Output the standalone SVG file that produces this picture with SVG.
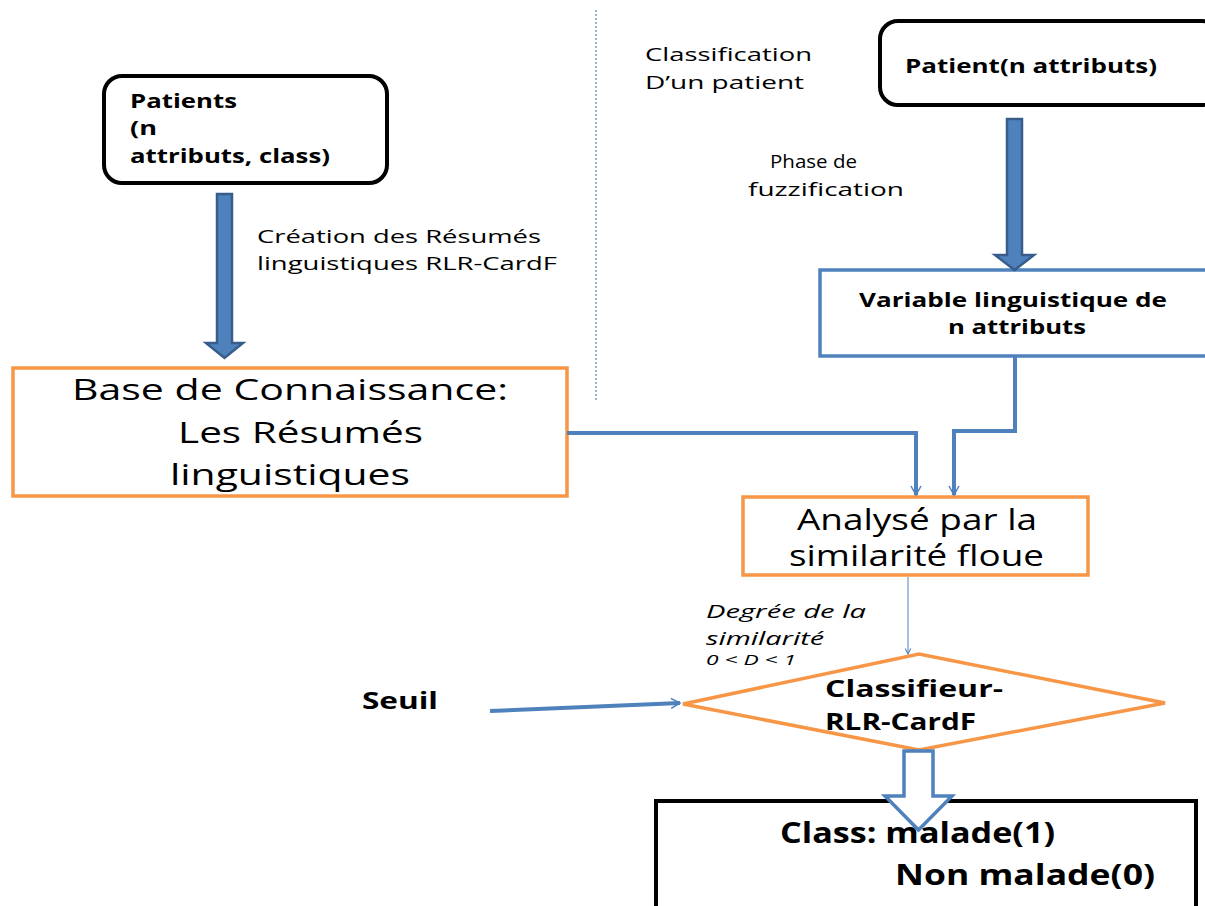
<svg xmlns="http://www.w3.org/2000/svg" width="1205" height="906" viewBox="0 0 1205 906">
<style>
text{font-family:"Open Sans","Liberation Sans",sans-serif;fill:#000}
.b{font-weight:bold}
.r{font-size:19px}
.big{font-size:29px}
.it{font-style:italic}
.blk{fill:#fff;stroke:#000;stroke-width:4}
.org{fill:#fff;stroke:#f79646;stroke-width:3.5}
.blu{fill:#fff;stroke:#4f81bd;stroke-width:3.5}
.con{fill:none;stroke:#4f81bd;stroke-width:4}
.thick{fill:#4f81bd;stroke:#385d8a;stroke-width:2.5}
</style>
<defs>
<marker id="open" viewBox="0 0 12 12" refX="10" refY="6" markerWidth="12" markerHeight="12" markerUnits="userSpaceOnUse" orient="auto">
<path d="M1,1 L10,6 L1,11" fill="none" stroke="#4f81bd" stroke-width="1.5"/>
</marker>
<marker id="open2" viewBox="0 0 10 10" refX="9" refY="5" markerWidth="7" markerHeight="7" orient="auto">
<path d="M1,1 L9,5 L1,9" fill="none" stroke="#4f81bd" stroke-width="1.5"/>
</marker>
</defs>
<line x1="596" y1="10" x2="596" y2="400" stroke="#4f81bd" stroke-width="1.2" stroke-dasharray="2,2"/>
<g id="patients">
<rect class="blk" x="104" y="76" width="283" height="107" rx="18"/>
<text class="b r" x="130" y="108" textLength="107" lengthAdjust="spacingAndGlyphs">Patients</text>
<text class="b r" x="130" y="135" textLength="27" lengthAdjust="spacingAndGlyphs">(n</text>
<text class="b r" x="130" y="163" textLength="200" lengthAdjust="spacingAndGlyphs">attributs, class)</text>
</g>
<g id="patient">
<rect class="blk" x="880" y="21" width="340" height="84" rx="18"/>
<text class="b r" x="905" y="73" textLength="252" lengthAdjust="spacingAndGlyphs">Patient(n attributs)</text>
</g>
<g id="variable">
<rect class="blu" x="820" y="270" width="400" height="86"/>
<text class="b r" x="859" y="307" textLength="308" lengthAdjust="spacingAndGlyphs">Variable linguistique de</text>
<text class="b r" x="948" y="334" textLength="138" lengthAdjust="spacingAndGlyphs">n attributs</text>
</g>
<g id="base">
<rect class="org" x="13" y="368" width="554" height="128"/>
<text class="big" x="72" y="400" textLength="436" lengthAdjust="spacingAndGlyphs">Base de Connaissance:</text>
<text class="big" x="178" y="443" textLength="245" lengthAdjust="spacingAndGlyphs">Les Résumés</text>
<text class="big" x="170" y="485" textLength="240" lengthAdjust="spacingAndGlyphs">linguistiques</text>
</g>
<g id="analyse">
<rect class="org" x="743" y="497" width="345" height="78"/>
<text class="big" x="797" y="530" textLength="240" lengthAdjust="spacingAndGlyphs">Analysé par la</text>
<text class="big" x="789" y="566" textLength="255" lengthAdjust="spacingAndGlyphs">similarité floue</text>
</g>
<g id="classifieur">
<polygon class="org" points="683,704 919,654 1165,703 919,750"/>
<text class="b" font-size="24" x="825" y="697" textLength="178" lengthAdjust="spacingAndGlyphs">Classifieur-</text>
<text class="b" font-size="24" x="825" y="730" textLength="151" lengthAdjust="spacingAndGlyphs">RLR-CardF</text>
</g>
<g id="class">
<rect class="blk" x="656" y="801" width="540" height="120" stroke-width="3.5"/>
<text class="b" font-size="28" x="780" y="843" textLength="275" lengthAdjust="spacingAndGlyphs">Class: malade(1)</text>
<text class="b" font-size="28" x="895" y="885" textLength="260" lengthAdjust="spacingAndGlyphs">Non malade(0)</text>
</g>
<g id="labels">
<text class="r" x="257" y="243" textLength="284" lengthAdjust="spacingAndGlyphs">Création des Résumés</text>
<text class="r" x="257" y="270" textLength="300" lengthAdjust="spacingAndGlyphs">linguistiques RLR-CardF</text>
<text class="r" x="645" y="61" textLength="167" lengthAdjust="spacingAndGlyphs">Classification</text>
<text class="r" x="645" y="89" textLength="159" lengthAdjust="spacingAndGlyphs">D’un patient</text>
<text class="r" x="770" y="168" textLength="87" lengthAdjust="spacingAndGlyphs">Phase de</text>
<text class="r" x="748" y="196" textLength="156" lengthAdjust="spacingAndGlyphs">fuzzification</text>
<text class="r it" x="706" y="618" textLength="160" lengthAdjust="spacingAndGlyphs">Degrée de la</text>
<text class="r it" x="706" y="645" textLength="118" lengthAdjust="spacingAndGlyphs">similarité</text>
<text class="it" font-size="14" x="706" y="665" textLength="90" lengthAdjust="spacingAndGlyphs">0 &lt; D &lt; 1</text>
<text class="b" font-size="24" x="362" y="709" textLength="76" lengthAdjust="spacingAndGlyphs">Seuil</text>
</g>
<g id="connectors">
<path class="thick" d="M217,194 L232,194 L232,343 L243,343 L224.5,358 L206,343 L217,343 Z"/>
<path class="thick" d="M1007,119 L1022,119 L1022,255 L1034,255 L1014.5,270 L995,255 L1007,255 Z"/>
<path class="con" d="M567,433 L916,433 L916,495" marker-end="url(#open)"/>
<path class="con" d="M1015,356 L1015,431 L954,431 L954,495" marker-end="url(#open)"/>
<path d="M908,577 L908,654" fill="none" stroke="#4f81bd" stroke-width="1" marker-end="url(#open2)"/>
<path class="con" d="M490,711 L680,703" marker-end="url(#open)"/>
<path d="M904,751 L933,751 L933,796 L952,796 L918.5,830 L885,796 L904,796 Z" fill="#fff" stroke="#4f81bd" stroke-width="3.5" stroke-linejoin="miter"/>
</g>
</svg>
